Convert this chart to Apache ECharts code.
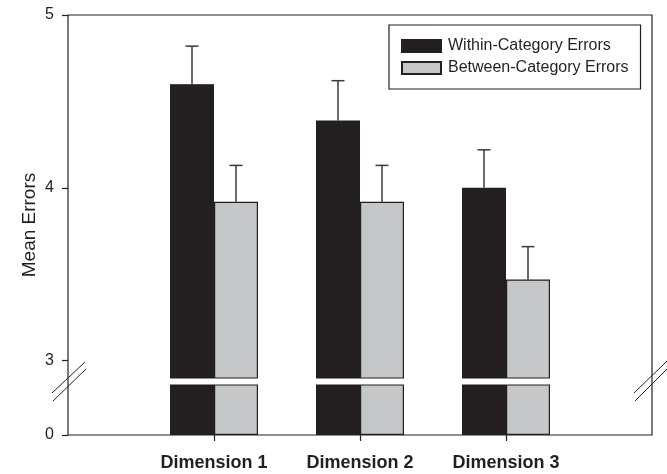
<!DOCTYPE html>
<html>
<head>
<meta charset="utf-8">
<script src="https://cdn.jsdelivr.net/npm/echarts@6/dist/echarts.min.js"></script>
<style>
  html, body { margin: 0; padding: 0; background: #fff; }
  #chart { width: 667px; height: 474px; }
</style>
</head>
<body>
<div id="chart"></div>
<script>
// Mean errors per dimension, with standard-error bars (upper half only)
const categories = ['Dimension 1', 'Dimension 2', 'Dimension 3'];
const withinMeans = [4.60, 4.39, 4.00];
const withinErr = [0.22, 0.23, 0.22];
const betweenMeans = [3.92, 3.92, 3.47];
const betweenErr = [0.21, 0.21, 0.19];
const upperTicks = [3, 4, 5];
const lowerTicks = [0];

const DARK = '#231f20';
const GREY = '#c6c7c8';
const FONT = 'Liberation Sans, Arial, sans-serif';
const BAR_W = 44;

const chart = echarts.init(document.getElementById('chart'), null, { renderer: 'canvas' });

function errorSeries(name, means, errs, side) {
  return {
    type: 'custom',
    name: name + ' SE',
    xAxisIndex: 1,
    yAxisIndex: 1,
    z: 1,
    silent: true,
    data: means.map((m, i) => [i, m, m + errs[i]]),
    renderItem(params, api) {
      const base = api.coord([api.value(0), api.value(1)]);
      const top = api.coord([api.value(0), api.value(2)]);
      const x = base[0] + side * BAR_W / 2;
      const cap = 6.5;
      const style = { stroke: '#3a3a3a', lineWidth: 1.5 };
      return {
        type: 'group',
        children: [
          { type: 'line', shape: { x1: x, y1: base[1], x2: x, y2: top[1] }, style },
          { type: 'line', shape: { x1: x - cap, y1: top[1], x2: x + cap, y2: top[1] }, style }
        ]
      };
    }
  };
}

function barSeries(name, values, color, axisIdx) {
  return {
    type: 'bar',
    name,
    xAxisIndex: axisIdx,
    yAxisIndex: axisIdx,
    data: values,
    barWidth: BAR_W,
    barGap: '0%',
    clip: true,
    z: 2,
    itemStyle: { color, borderColor: DARK, borderWidth: 1.2 },
    emphasis: { disabled: true }
  };
}

const option = {
  animation: false,
  backgroundColor: '#fff',
  textStyle: { fontFamily: FONT },
  grid: [
    // outer frame of the plot
    { left: 68, right: 15, top: 15, bottom: 39, show: true, borderColor: DARK, borderWidth: 1.2, backgroundColor: 'transparent' },
    // upper panel (3 .. 5)
    { left: 141, right: 88, top: 15, height: 363 },
    // lower panel (0)
    { left: 141, right: 88, top: 385, height: 50 }
  ],
  legend: {
    orient: 'vertical',
    left: 389,
    top: 25,
    padding: [13, 12, 13, 12],
    itemGap: 6,
    itemWidth: 39,
    itemHeight: 12,
    icon: 'rect',
    borderColor: DARK,
    borderWidth: 1.2,
    backgroundColor: '#fff',
    selectedMode: false,
    data: ['Within-Category Errors', 'Between-Category Errors'],
    textStyle: { fontFamily: FONT, fontSize: 16, color: '#231f20', padding: [0, 0, 0, 2] }
  },
  xAxis: [
    { gridIndex: 0, type: 'value', show: false, min: 0, max: 1 },
    { gridIndex: 1, type: 'category', data: categories, show: false },
    {
      gridIndex: 2, type: 'category', data: categories,
      axisLine: { show: false },
      axisTick: { show: true, alignWithLabel: true, length: 6, lineStyle: { color: DARK, width: 1.2 } },
      axisLabel: { interval: 0, hideOverlap: false, fontFamily: FONT, fontSize: 18, fontWeight: 'bold', color: '#231f20', margin: 19 }
    }
  ],
  yAxis: [
    {
      gridIndex: 0, type: 'value', min: 0, max: 1,
      name: 'Mean Errors', nameLocation: 'middle', nameGap: 29,
      nameTextStyle: { fontFamily: FONT, fontSize: 19, color: '#231f20' },
      axisLine: { show: false }, axisTick: { show: false }, axisLabel: { show: false }, splitLine: { show: false }
    },
    {
      gridIndex: 1, type: 'value', min: 2.9, max: 5, offset: 73,
      axisLine: { show: false },
      axisTick: { show: true, customValues: upperTicks, length: 6, lineStyle: { color: DARK, width: 1.2 } },
      axisLabel: { customValues: upperTicks, fontFamily: FONT, fontSize: 16, color: '#231f20', margin: 14 },
      splitLine: { show: false }
    },
    {
      gridIndex: 2, type: 'value', min: 0, max: 0.29, offset: 73,
      axisLine: { show: false },
      axisTick: { show: true, customValues: lowerTicks, length: 6, lineStyle: { color: DARK, width: 1.2 } },
      axisLabel: { customValues: lowerTicks, fontFamily: FONT, fontSize: 16, color: '#231f20', margin: 14 },
      splitLine: { show: false }
    }
  ],
  series: [
    barSeries('Within-Category Errors', withinMeans, DARK, 1),
    barSeries('Between-Category Errors', betweenMeans, GREY, 1),
    barSeries('Within-Category Errors', withinMeans, DARK, 2),
    barSeries('Between-Category Errors', betweenMeans, GREY, 2),
    errorSeries('Within-Category Errors', withinMeans, withinErr, -1),
    errorSeries('Between-Category Errors', betweenMeans, betweenErr, 1)
  ],
  graphic: [
    // axis-break marks on the left and right frame edges
    { type: 'line', shape: { x1: 52, y1: 393, x2: 85, y2: 362 }, style: { stroke: DARK, lineWidth: 1 } },
    { type: 'line', shape: { x1: 53, y1: 401, x2: 86, y2: 369 }, style: { stroke: DARK, lineWidth: 1 } },
    { type: 'line', shape: { x1: 634, y1: 393, x2: 667, y2: 361 }, style: { stroke: DARK, lineWidth: 1 } },
    { type: 'line', shape: { x1: 635, y1: 401, x2: 668, y2: 368 }, style: { stroke: DARK, lineWidth: 1 } }
  ]
};

chart.setOption(option);
</script>
</body>
</html>
